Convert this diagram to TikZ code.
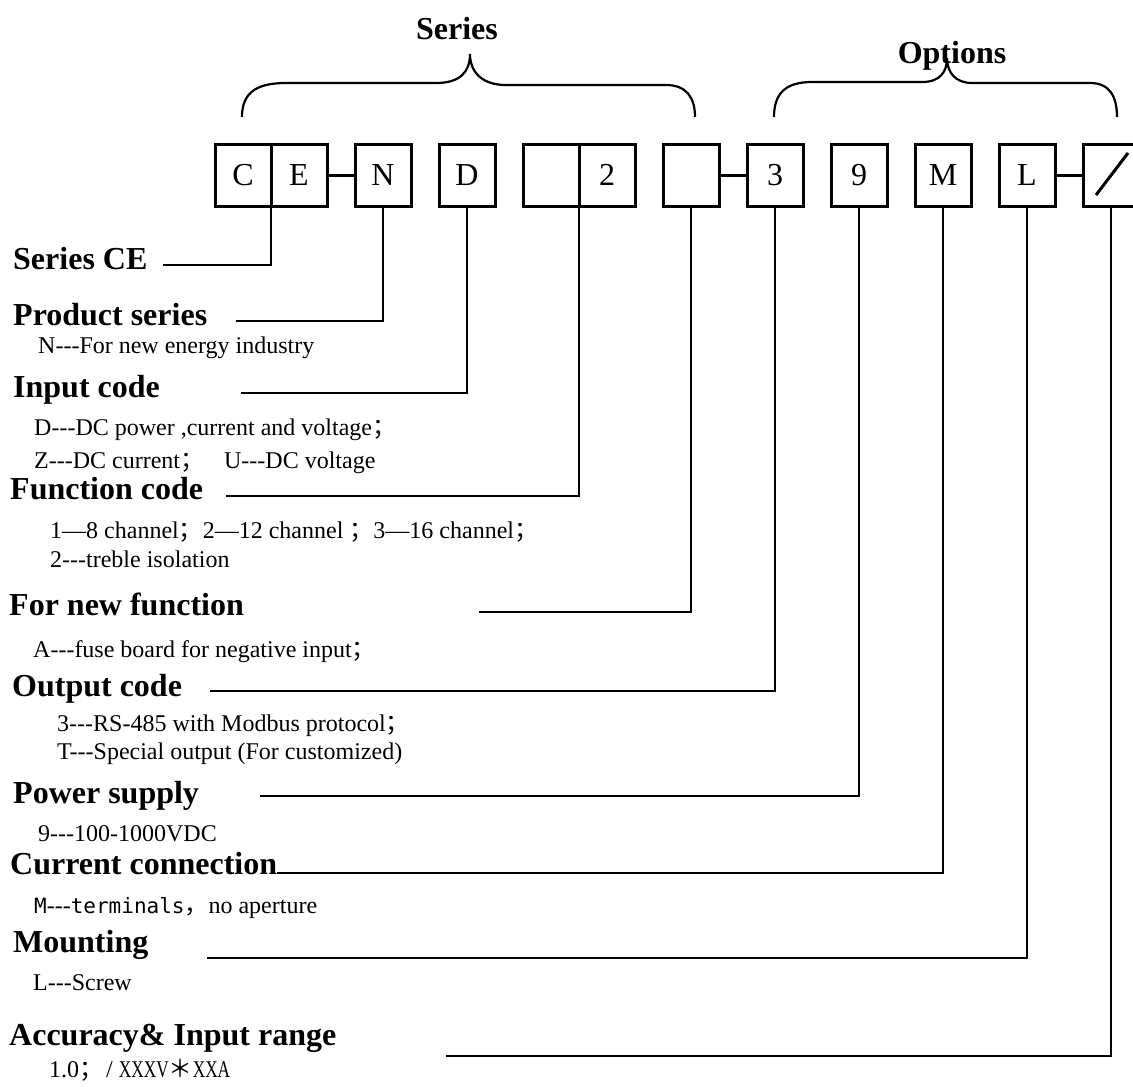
\documentclass[tikz,border=0pt]{standalone}
\usepackage{fontspec}
\usepackage{graphicx}
\setmainfont{Liberation Serif}
\newfontfamily\cjkfont{Noto Sans CJK SC}
\newfontfamily\termfont{DejaVu Sans Mono}
\usetikzlibrary{positioning,calc}
\newcommand{\tridash}{-\kern0pt-\kern0pt-}
\newcommand{\semi}{{\cjkfont ；}}
\newcommand{\term}[1]{{\termfont\fontsize{21}{24}\selectfont #1}}
\newcommand{\narrowtxt}[1]{\scalebox{0.72}[1]{#1}}
\tikzset{
  codebox/.style = {draw, line width=3pt, inner sep=0pt, outer sep=0pt,
    minimum width=56pt, minimum height=62pt,
    font=\fontsize{32}{38}\selectfont},% one place of the type code
  headtxt/.style = {anchor=base west, inner sep=0pt,
    font=\fontsize{32}{38}\selectfont\bfseries},% field title
  desctxt/.style = {anchor=base west, inner sep=0pt,
    font=\fontsize{24}{29}\selectfont},% field values
  leader/.style = {line width=2.4pt},% line from a place to its title
  brace/.style = {line width=2.2pt}% group brace
}

\begin{document}
\begin{tikzpicture}[x=1pt,y=-1pt,node distance=28pt]
\useasboundingbox (0,0) rectangle (1133,1087);
% type code
\node[codebox] (c) at (243,175) {C};
\node[codebox, right=0pt of c] (e) {E};
\node[codebox, right=of e] (n) {N};
\node[codebox, right=of n] (d) {D};
\node[codebox, right=of d] (fa) {};
\node[codebox, right=0pt of fa] (fb) {2};
\node[codebox, right=of fb] (nf) {};
\node[codebox, right=of nf] (o) {3};
\node[codebox, right=of o] (p) {9};
\node[codebox, right=of p] (m) {M};
\node[codebox, right=of m] (l) {L};
\node[codebox, right=of l] (a) {};
\draw[line width=3pt] ($(a.center)+(-15,20)$) -- ($(a.center)+(17,-22)$);
\draw[line width=3pt] (e) -- (n);
\draw[line width=3pt] (nf) -- (o);
\draw[line width=3pt] (l) -- (a);

% braces
\draw[brace] (242,117) .. controls (242,93) and (256,83) .. (286,83) -- (436,83)
  .. controls (460,83) and (470,72) .. (470,54)
  .. controls (470,72) and (482,85) .. (506,85) -- (666,85)
  .. controls (686,85) and (695,97) .. (695,117);
\draw[brace] (774,117) .. controls (774,93) and (786,82) .. (812,82) -- (922,82)
  .. controls (940,82) and (947,72) .. (947,58)
  .. controls (947,72) and (955,83) .. (972,83) -- (1090,83)
  .. controls (1110,83) and (1117,97) .. (1117,117);
\node[headtxt, anchor=base] (ser) at (457,39) {Series};
\node[headtxt, anchor=base] (opt) at (952,63) {Options};

% fields
\node[headtxt] (hce) at (13,269) {Series CE};
\node[headtxt] (hps) at (13,325) {Product series};
\node[desctxt] (dps) at (38,353) {N\tridash For new energy industry};
\node[headtxt] (hin) at (13,397) {Input code};
\node[desctxt] (din1) at (34,435) {D\tridash DC power ,current and voltage\semi};
\node[desctxt] (din2) at (34,468) {Z\tridash DC current\semi\hspace{20pt}U\tridash DC voltage};
\node[headtxt] (hfc) at (10,499) {Function code};
\node[desctxt] (dfc1) at (50,538) {1—8 channel\semi 2—12 channel \semi 3—16 channel\semi};
\node[desctxt] (dfc2) at (50,567) {2\tridash treble isolation};
\node[headtxt] (hnf) at (9,615) {For new function};
\node[desctxt] (dnf) at (33,657) {A\tridash fuse board for negative input\semi};
\node[headtxt] (hoc) at (12,696) {Output code};
\node[desctxt] (doc1) at (57,731) {3\tridash RS-485 with Modbus protocol\semi};
\node[desctxt] (doc2) at (57,759) {T\tridash Special output (For customized)};
\node[headtxt] (hpw) at (13,803) {Power supply};
\node[desctxt] (dpw) at (38,841) {9\tridash 100-1000VDC};
\node[headtxt] (hcc) at (10,874) {Current connection};
\node[desctxt] (dcc) at (34,913) {\term{M}\tridash\term{terminals}{\cjkfont ，}no aperture};
\node[headtxt] (hmt) at (13,952) {Mounting};
\node[desctxt] (dmt) at (33,990) {L\tridash Screw};
\node[headtxt] (hac) at (9,1045) {Accuracy\& Input range};
\node[desctxt] (dac) at (49,1077) {1.0\semi\hspace{3pt}/ \narrowtxt{XXXV}{\cjkfont ＊}\narrowtxt{XXA}};

% leaders
\coordinate (k1) at (163,265);
\coordinate (k2) at (236,321);
\coordinate (k3) at (241,393);
\coordinate (k4) at (226,496);
\coordinate (k5) at (479,612);
\coordinate (k6) at (210,691);
\coordinate (k7) at (260,796);
\coordinate (k8) at (277,873);
\coordinate (k9) at (207,958);
\coordinate (k10) at (446,1056);
\draw[leader] (c.south east) |- (k1);
\draw[leader] (n.south) |- (k2);
\draw[leader] (d.south) |- (k3);
\draw[leader] (fb.south west) |- (k4);
\draw[leader] (nf.south) |- (k5);
\draw[leader] (o.south) |- (k6);
\draw[leader] (p.south) |- (k7);
\draw[leader] (m.south) |- (k8);
\draw[leader] (l.south) |- (k9);
\draw[leader] (a.south) |- (k10);
\end{tikzpicture}
\end{document}
